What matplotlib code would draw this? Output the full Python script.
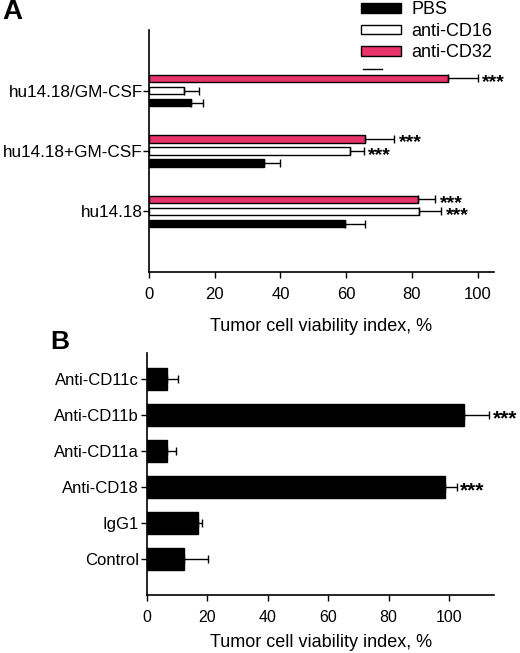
import matplotlib
matplotlib.use("Agg")
import matplotlib.pyplot as plt
import numpy as np
from matplotlib.lines import Line2D

plt.rcParams['font.family'] = ['Liberation Sans', 'DejaVu Sans']

# panel A data
groups_a = ["hu14.18", "hu14.18+GM-CSF", "hu14.18/GM-CSF"]
pbs = [59.8, 35.1, 12.9]
pbs_err = [5.8, 4.9, 3.4]
cd16 = [82.1, 61.1, 10.8]
cd16_err = [6.7, 4.2, 4.4]
cd32 = [81.9, 65.6, 91.0]
cd32_err = [5.1, 9.0, 9.0]
stars_cd16 = ["***", "***", ""]
stars_cd32 = ["***", "***", "***"]

# panel B data
groups_b = ["Control", "IgG1", "Anti-CD18", "Anti-CD11a", "Anti-CD11b", "Anti-CD11c"]
vals_b = [12.1, 16.8, 98.7, 6.6, 104.8, 6.5]
err_b = [8.2, 1.4, 3.8, 3.0, 8.6, 3.9]
stars_b = ["", "", "***", "", "***", ""]

pink = "#e8336b"

fig = plt.figure(figsize=(5.2, 6.53), dpi=100)

# ---- panel A
ax = fig.add_axes([0.2865, 0.5835, 0.6635, 0.3705])
y = np.arange(len(groups_a))
h = 0.12
off = 0.2
series = [(pbs, pbs_err, "black", "PBS", -off),
          (cd16, cd16_err, "white", "anti-CD16", 0),
          (cd32, cd32_err, pink, "anti-CD32", off)]
for vals, errs, col, lab, dy in series:
    ax.barh(y + dy, vals, height=h, color=col, edgecolor="black", linewidth=1.0, label=lab)
    ax.errorbar(vals, y + dy, xerr=[np.zeros(len(vals)), errs], fmt="none",
                ecolor="black", elinewidth=1.0, capsize=3, capthick=1.0)
for i in range(len(groups_a)):
    if stars_cd16[i]:
        ax.annotate(stars_cd16[i], (cd16[i] + cd16_err[i], y[i]), xytext=(3.5, -3),
                    textcoords="offset points", ha="left", va="center", fontsize=14, fontweight="bold")
    if stars_cd32[i]:
        ax.annotate(stars_cd32[i], (cd32[i] + cd32_err[i], y[i] + off), xytext=(3.5, -3),
                    textcoords="offset points", ha="left", va="center", fontsize=14, fontweight="bold")

ax.set_yticks(y)
ax.set_yticklabels(groups_a, fontsize=12.3)
ax.set_ylim(-1, 3)
ax.set_xlim(0, 105)
ax.set_xticks([0, 20, 40, 60, 80, 100])
ax.tick_params(axis="x", labelsize=12, length=4, width=1.0, pad=7)
ax.tick_params(axis="y", length=4, width=1.0, pad=0.5)
ax.set_xlabel("Tumor cell viability index, %", fontsize=13, labelpad=11)
for s in ["top", "right"]:
    ax.spines[s].set_visible(False)
for s in ["left", "bottom"]:
    ax.spines[s].set_linewidth(1.2)

handles, labels = ax.get_legend_handles_labels()
fig.legend(handles, labels, loc="upper left", bbox_to_anchor=(0.695, 0.998),
           frameon=False, fontsize=13, handlelength=2.2, handleheight=0.45,
           labelspacing=0.25, handletextpad=0.55, borderpad=0, borderaxespad=0)
fig.add_artist(Line2D([0.698, 0.735], [0.894, 0.894], color="black", lw=1.0,
                      transform=fig.transFigure))

fig.text(0.005, 0.982, "A", fontsize=20, fontweight="bold", va="center", ha="left")

# ---- panel B
bx = fig.add_axes([0.2827, 0.0888, 0.6679, 0.3702])
yb = np.arange(len(groups_b))
bx.barh(yb, vals_b, height=0.62, color="black", edgecolor="black")
bx.errorbar(vals_b, yb, xerr=[np.zeros(len(vals_b)), err_b], fmt="none",
            ecolor="black", elinewidth=1.0, capsize=3, capthick=1.0)
for i in range(len(groups_b)):
    if stars_b[i]:
        bx.annotate(stars_b[i], (vals_b[i] + err_b[i], yb[i]), xytext=(2.5, -3),
                    textcoords="offset points", ha="left", va="center", fontsize=15, fontweight="bold")
bx.set_yticks(yb)
bx.set_yticklabels(groups_b, fontsize=12)
bx.set_ylim(-1, 5.72)
bx.set_xlim(0, 115)
bx.set_xticks([0, 20, 40, 60, 80, 100])
bx.tick_params(axis="x", labelsize=11.5, length=4, width=1.0, pad=7)
bx.tick_params(axis="y", length=4, width=1.0, pad=2)
bx.set_xlabel("Tumor cell viability index, %", fontsize=13, labelpad=6)
for s in ["top", "right"]:
    bx.spines[s].set_visible(False)
for s in ["left", "bottom"]:
    bx.spines[s].set_linewidth(1.2)

fig.text(0.096, 0.476, "B", fontsize=19, fontweight="bold", va="center", ha="left")

fig.savefig("out.png", dpi=100)
